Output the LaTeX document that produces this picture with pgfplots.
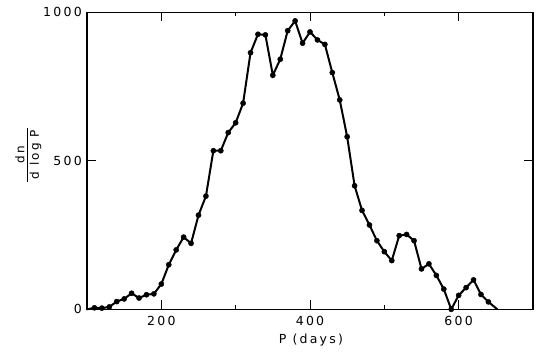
\documentclass[border=0pt]{standalone}
\usepackage{pgfplots}
\pgfplotsset{compat=1.18}
\usepackage{pgfplotstable}
\usepackage{fontspec}
\setmainfont{DejaVu Sans}[LetterSpace=18]
\pgfplotstableread{
P N
100 0
110 5
120 4
130 8
140 26
150 35
160 54
170 38
180 49
190 52
200 85
210 150
220 200
230 243
240 222
250 317
260 381
270 534
280 534
290 595
300 628
310 694
320 864
330 926
340 924
350 788
360 842
370 938
380 971
390 896
400 934
410 907
420 892
430 797
440 705
450 581
460 416
470 333
480 284
490 231
500 194
510 164
520 248
530 252
540 231
550 136
560 153
570 114
580 68
590 0
600 47
610 73
620 99
630 50
640 25
652 0
}\dist
\pgfplotstableread{
P N
110 5
120 4
130 8
140 26
150 35
160 54
170 38
180 49
190 52
200 85
210 150
220 200
230 243
240 222
250 317
260 381
270 534
280 534
290 595
300 628
310 694
320 864
330 926
340 924
350 788
360 842
370 938
380 971
390 896
400 934
410 907
420 892
430 797
440 705
450 581
460 416
470 333
480 284
490 231
500 194
510 164
520 248
530 252
540 231
550 136
560 153
570 114
580 68
590 0
600 47
610 73
620 99
630 50
640 25
}\pts
\begin{document}
\begin{tikzpicture}[font=\fontsize{12.5}{14}\selectfont]
\begin{axis}[
  scale only axis,
  width=446pt, height=297pt,
  xmin=100, xmax=700, ymin=0, ymax=1000,
  xtick={200,400,600}, minor xtick={300,500},
  ytick={0,500,1000},
  tick align=inside,
  major tick length=9pt, minor tick length=4pt,
  axis line style={line width=1.2pt},
  every tick/.style={black, line width=1pt},
  /pgf/number format/assume math mode=true,
  /pgf/number format/1000 sep={},
  xticklabel style={inner sep=0pt, yshift=-7pt},
  yticklabel style={inner sep=0pt, xshift=-5pt},
  clip=false,
  xlabel={P (days)},
  xlabel style={at={(rel axis cs:0.502,0)}, anchor=center, yshift=-31pt, inner sep=0pt},
]
\addplot[black, line width=2pt, mark=none] table[x=P, y=N] {\dist};
\addplot[only marks, mark=*, mark size=2.6pt, black] table[x=P, y=N] {\pts};
\node[rotate=90, inner sep=0pt, font=\fontsize{12}{13}\selectfont] at ([xshift=-58pt]rel axis cs:0,0.52)
  {\begin{tabular}{@{\,}c@{\,}}dn\\[-1pt]\hline\rule{0pt}{11pt}d log P\end{tabular}};
\end{axis}
\pgfresetboundingbox
\path ([xshift=-87pt,yshift=-51.7pt]current axis.south west) rectangle ++(560pt,361pt);
\end{tikzpicture}
\end{document}
